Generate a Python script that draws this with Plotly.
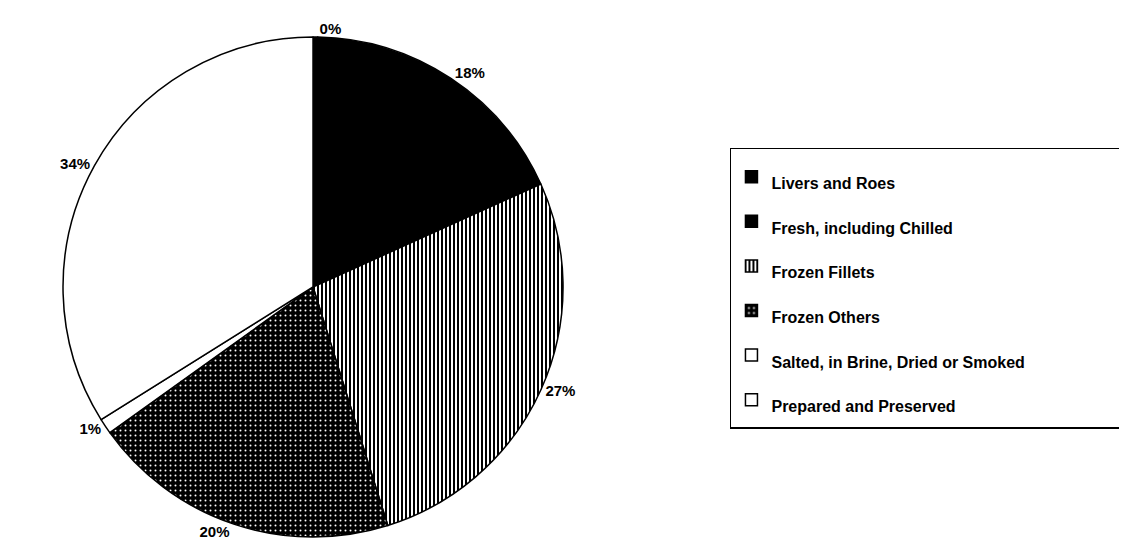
import plotly.graph_objects as go

categories = ["Livers and Roes", "Fresh, including Chilled", "Frozen Fillets",
              "Frozen Others", "Salted, in Brine, Dried or Smoked", "Prepared and Preserved"]
shares = [0.3, 18, 27, 20, 1, 34]

fill_colors = ["black", "black", "white", "black", "white", "white"]
pat_shapes = ["", "", "|", ".", "", ""]
pat_fg = ["black", "black", "black", "white", "black", "black"]
pat_bg = ["black", "black", "white", "black", "white", "white"]
pat_solidity = [0.5, 0.5, 0.5, 0.12, 0.5, 0.5]
pat_size = [4, 4, 4, 5, 4, 4]

pad = "&nbsp;" * 22
legend_labels = ["<span style='font-size:16px'>%s%s</span>" % (c, pad if i == 4 else "")
                 for i, c in enumerate(categories)]

fig = go.Figure(go.Pie(
    labels=legend_labels,
    values=shares,
    sort=False,
    direction="clockwise",
    rotation=0,
    texttemplate="%{value:.0f}%",
    textposition="outside",
    textfont=dict(family="Liberation Sans", size=15, color="black", weight="bold"),
    marker=dict(
        colors=fill_colors,
        line=dict(color="black", width=1.5),
        pattern=dict(shape=pat_shapes, fgcolor=pat_fg, bgcolor=pat_bg,
                     solidity=pat_solidity, size=pat_size),
    ),
    hoverinfo="skip",
    domain=dict(x=[0.0488, 0.4925], y=[0.0434, 0.9476]),
))

fig.update_layout(
    width=1127, height=553,
    margin=dict(l=0, r=0, t=0, b=0),
    paper_bgcolor="white", plot_bgcolor="white",
    showlegend=True,
    legend=dict(
        x=0.6406, y=0.747, xanchor="left", yanchor="top",
        bordercolor="black", borderwidth=1.5, bgcolor="white",
        font=dict(family="Liberation Sans", size=32, color="black", weight="bold"),
    ),
)

fig.write_html("out.html")
